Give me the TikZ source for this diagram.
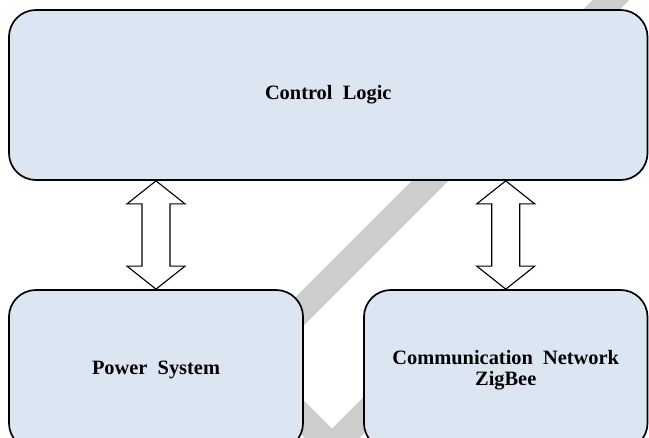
\documentclass[tikz,border=0pt]{standalone}
\usepackage{fontspec}
\setmainfont{Liberation Serif}
\usetikzlibrary{calc}
\definecolor{cfill}{HTML}{DCE6F2}
\definecolor{cmark}{HTML}{CDCDCD}
\tikzset{
  every picture/.style={font=\fontsize{14.5}{14.5}\selectfont\bfseries, line width=1.2pt},
  block/.style={draw=black, fill=cfill, rounded corners=0.675cm, align=center, inner sep=0pt},
  dblarrow/.style={draw=black, fill=white, line width=0.8pt, line join=miter},
}
\begin{document}
\begin{tikzpicture}[x=0.025cm, y=0.025cm,
  stripe/.style={draw=cmark, line width=0.65cm, line join=miter}]
  \clip (0,0) rectangle (649,437);
  % grey mark behind the blocks
  \path[stripe] (621,447) -- (250,76);
  \path[stripe] (250,72) -- (332,-10) -- (414,72);
  \node[block, minimum width=15.96cm, minimum height=4.25cm] (logic) at (328.25,342) {Control\ \ Logic};
  \node[block, minimum width=7.35cm, minimum height=4cm] (power) at (156,67) {Power\ \ System};
  \node[block, minimum width=7.0875cm, minimum height=4cm] (comm) at (505.75,67) {Communication\ \ Network\\ZigBee};
  \foreach \n in {power, comm} {
    \coordinate (top-\n) at (\n.north |- logic.south);
    \draw[dblarrow] (top-\n) -- ++(29,-23) -- ++(-15,0) -- ($(\n.north)+(14,23)$) -- ++(15,0)
      -- (\n.north) -- ++(-29,23) -- ++(15,0) -- ($(top-\n)+(-14,-23)$) -- ++(-15,0) -- cycle;
  }
\end{tikzpicture}
\end{document}
